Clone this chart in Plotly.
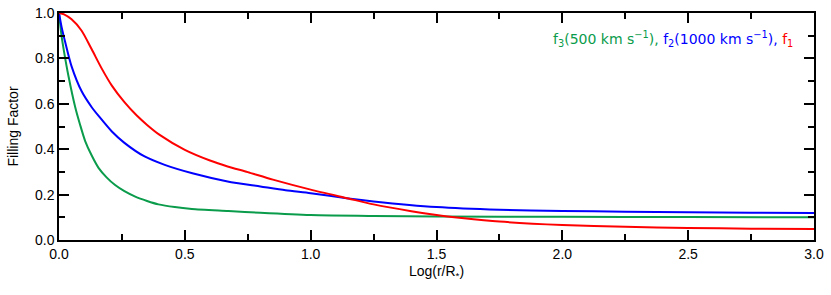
import plotly.graph_objects as go

# Data
x_f1 = [0, 0.02, 0.05, 0.09, 0.13, 0.17, 0.21, 0.26, 0.31, 0.35, 0.4, 0.5, 0.6, 0.67, 0.75, 0.85, 1.0, 1.15, 1.25, 1.4, 1.5, 1.6, 1.75, 2.0, 2.25, 2.5, 2.75, 3.0]
f1 = [1.0, 0.994, 0.972, 0.922, 0.84, 0.755, 0.68, 0.607, 0.547, 0.507, 0.463, 0.397, 0.35, 0.324, 0.299, 0.266, 0.222, 0.183, 0.157, 0.127, 0.11, 0.097, 0.081, 0.066, 0.058, 0.053, 0.05, 0.048]

x_f2 = [0, 0.01, 0.025, 0.05, 0.09, 0.13, 0.16, 0.21, 0.26, 0.34, 0.42, 0.53, 0.67, 0.8, 0.9, 1.0, 1.15, 1.25, 1.5, 1.75, 2.0, 2.25, 2.5, 2.75, 3.0]
f2 = [1.0, 0.94, 0.87, 0.765, 0.655, 0.585, 0.543, 0.478, 0.428, 0.368, 0.331, 0.294, 0.258, 0.236, 0.219, 0.206, 0.183, 0.17, 0.145, 0.133, 0.128, 0.125, 0.122, 0.12, 0.119]

x_f3 = [0, 0.01, 0.02, 0.038, 0.064, 0.084, 0.104, 0.13, 0.157, 0.19, 0.223, 0.26, 0.303, 0.35, 0.395, 0.46, 0.528, 0.673, 0.8, 1.0, 1.25, 1.5, 2.0, 2.5, 3.0]
f3 = [1.0, 0.9, 0.83, 0.72, 0.587, 0.507, 0.436, 0.372, 0.318, 0.275, 0.242, 0.215, 0.191, 0.172, 0.157, 0.145, 0.137, 0.128, 0.12, 0.11, 0.106, 0.104, 0.102, 0.101, 0.10]

GREEN = "#0A9B4B"
BLUE = "#0000FF"
RED = "#FF0000"
FONT = "Liberation Sans"

fig = go.Figure()
for xs, ys, c in [(x_f3, f3, GREEN), (x_f2, f2, BLUE), (x_f1, f1, RED)]:
    fig.add_trace(go.Scatter(x=xs, y=ys, mode="lines",
                             line=dict(color=c, width=2, shape="spline", smoothing=0.7),
                             showlegend=False, hoverinfo="skip"))

axis_common = dict(showgrid=False, zeroline=False, showline=True, linecolor="black",
                   linewidth=1.5, mirror="ticks", ticks="inside", tickcolor="black",
                   tickwidth=1.5, ticklen=10, automargin=False,
                   tickfont=dict(family=FONT, size=14, color="black"))

fig.update_xaxes(range=[0, 3], dtick=0.5, tickformat=".1f",
                 minor=dict(ticks="inside", ticklen=6, dtick=0.25, tickcolor="black", tickwidth=1.5),
                 title=dict(text="Log(r/R<sub>*</sub>)", font=dict(family=FONT, size=14, color="black"), standoff=6),
                 **axis_common)
fig.update_yaxes(range=[0, 1.0], dtick=0.2, tickformat=".1f",
                 minor=dict(ticks="inside", ticklen=6, dtick=0.1, tickcolor="black", tickwidth=1.5),
                 title=dict(text="Filling Factor", font=dict(family=FONT, size=14, color="black"), standoff=13),
                 **axis_common)

label = (f'<span style="color:{GREEN}">f<sub>3</sub>(500 km s<sup>−1</sup>),</span> '
         f'<span style="color:{BLUE}">f<sub>2</sub>(1000 km s<sup>−1</sup>),</span> '
         f'<span style="color:{RED}">f<sub>1</sub></span>')
fig.add_annotation(x=0.975, y=0.885, xref="paper", yref="paper", xanchor="right", yanchor="middle",
                   text=label, showarrow=False, font=dict(family="DejaVu Sans", size=14))

fig.update_layout(width=831, height=295, margin=dict(l=59, r=17, t=13, b=55),
                  plot_bgcolor="white", paper_bgcolor="white")

fig.write_html("out.html", config={"displayModeBar": False},
               post_script="document.body.style.margin='0';")
